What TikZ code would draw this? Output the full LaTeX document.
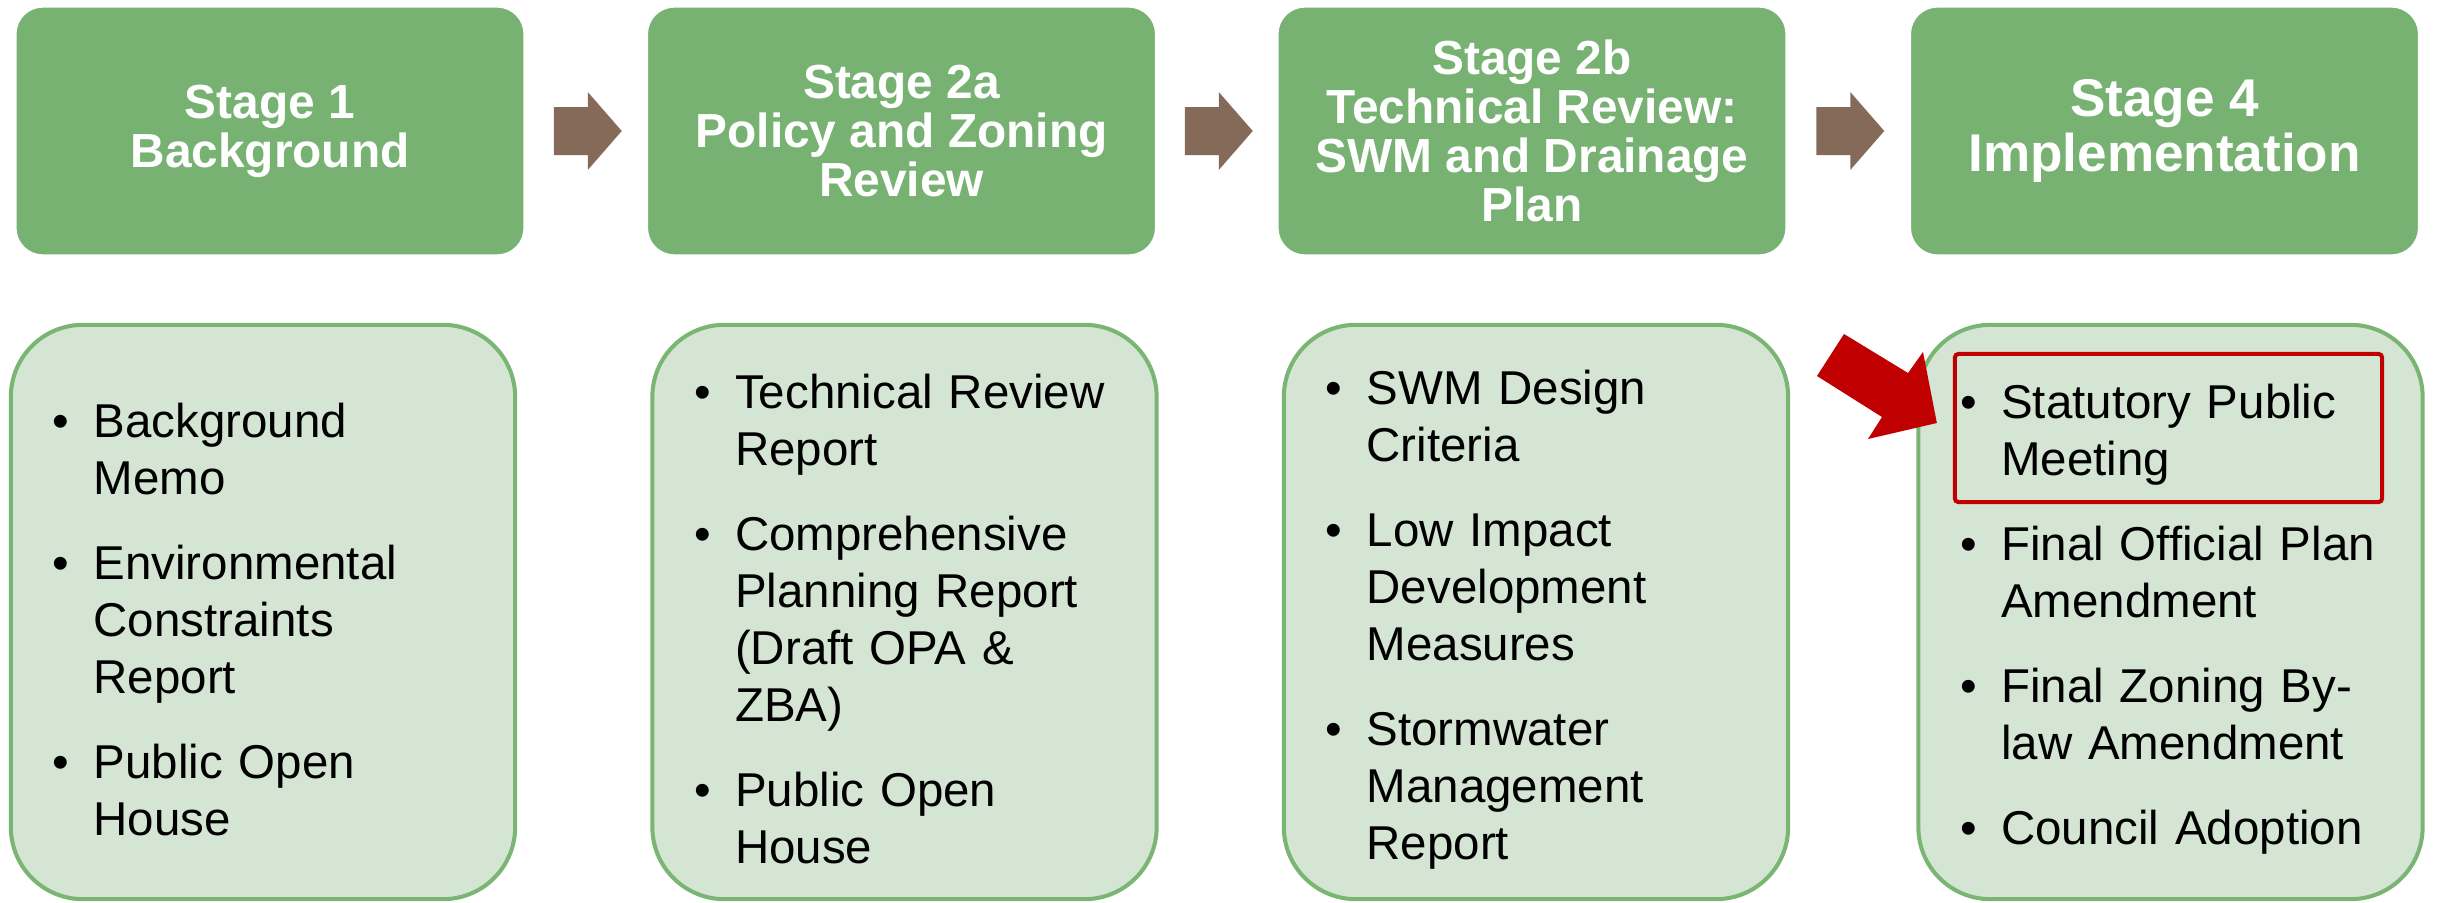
\documentclass[tikz,border=0pt]{standalone}
\usepackage{fontspec}
\setmainfont{Liberation Sans}
\usetikzlibrary{calc}

\definecolor{stagegreen}{RGB}{119,178,115}
\definecolor{panelfill}{RGB}{213,229,211}
\definecolor{panelline}{RGB}{122,181,116}
\definecolor{stepbrown}{RGB}{133,106,90}
\definecolor{alertred}{RGB}{192,0,0}

% bullet list entries with a hanging indent; \itemgap separates entries
\newlength\bulletgap
\setlength\bulletgap{11.7pt}
\newcommand\bitem[1]{\par\noindent\hangindent=\bulletgap\hangafter=1%
  \makebox[\bulletgap][l]{\textbullet}#1\par}
\newcommand\itemgap{\vskip 8pt}

\begin{document}
\begin{tikzpicture}[x=0.01cm,y=-0.01cm,
  stagebox/.style={fill=stagegreen, draw=white, line width=0.4pt,
    rounded corners=0.27cm, minimum width=5.08cm, minimum height=2.48cm,
    text=white, align=center, inner sep=0pt,
    font=\bfseries\fontsize{13.6}{13.9}\selectfont},
  panel/.style={fill=panelfill, draw=panelline, line width=1.15pt,
    rounded corners=0.72cm, minimum width=5.04cm, minimum height=5.74cm,
    inner sep=0pt},
  itemtext/.style={anchor=west, text width=4.6cm, inner sep=0pt,
    font=\fontsize{13.5}{16.2}\selectfont},
  blockarrow/.style={fill=stepbrown}
]
\useasboundingbox (0,0) rectangle (2438,903);
\fill[white] (0,0) rectangle (2438,903);

% stage headers
\node[stagebox] (t1) at (270,131) {Stage 1\\Background};
\node[stagebox] (t2) at (901.5,131) {Stage 2a\\Policy and Zoning\\Review};
\node[stagebox] (t3) at (1532,131) {Stage 2b\\Technical Review:\\SWM and Drainage\\Plan};
\node[stagebox, font=\bfseries\fontsize{15.1}{15.5}\selectfont] (t4) at (2164.5,131) {Stage 4\\Implementation};

% block arrows between the headers
\foreach \a/\b in {t1/t2, t2/t3, t3/t4} {
  \coordinate (m) at ($(\a.east)!0.5!(\b.west)+(2,0)$);
  \fill[blockarrow, shift={(m)}] (-34,-24) -- (0,-24) -- (0,-39) -- (34,0)
    -- (0,39) -- (0,24) -- (-34,24) -- cycle;
}

% deliverable panels
\node[panel] (p1) at (263,612) {};
\node[panel] (p2) at (904.5,612) {};
\node[panel] (p3) at (1536,612) {};
\node[panel] (p4) at (2170.5,612) {};

\node[itemtext] (l1) at ($(p1.west)+(43,-4)$) {%
  \bitem{Background\newline Memo}\itemgap
  \bitem{Environmental\newline Constraints\newline Report}\itemgap
  \bitem{Public Open\newline House}};
\node[itemtext] (l2) at ($(p2.west)+(43,-4)$) {%
  \bitem{Technical Review\newline Report}\itemgap
  \bitem{Comprehensive\newline Planning Report\newline (Draft OPA \&\newline ZBA)}\itemgap
  \bitem{Public Open\newline House}};
\node[itemtext] (l3) at ($(p3.west)+(43,-4)$) {%
  \bitem{SWM Design\newline Criteria}\itemgap
  \bitem{Low Impact\newline Development\newline Measures}\itemgap
  \bitem{Stormwater\newline Management\newline Report}};
\node[itemtext] (l4) at ($(p4.west)+(43,-4)$) {%
  \bitem{Statutory Public\newline Meeting}\itemgap
  \bitem{Final Official Plan\newline Amendment}\itemgap
  \bitem{Final Zoning By-\newline law Amendment}\itemgap
  \bitem{Council Adoption}};

% highlight of the public meeting item
\node[draw=alertred, line width=1.15pt, rounded corners=1pt,
  minimum width=4.27cm, minimum height=1.48cm, inner sep=0pt] (hl) at (2168.5,428) {};
\coordinate (tip) at ($(hl.west)+(-16,-5)$);
\fill[alertred] (1844,334) -- (1908,373) -- (1923,352) -- (tip)
  -- (1868,439) -- (1882,417) -- (1817,376) -- cycle;
\end{tikzpicture}
\end{document}
